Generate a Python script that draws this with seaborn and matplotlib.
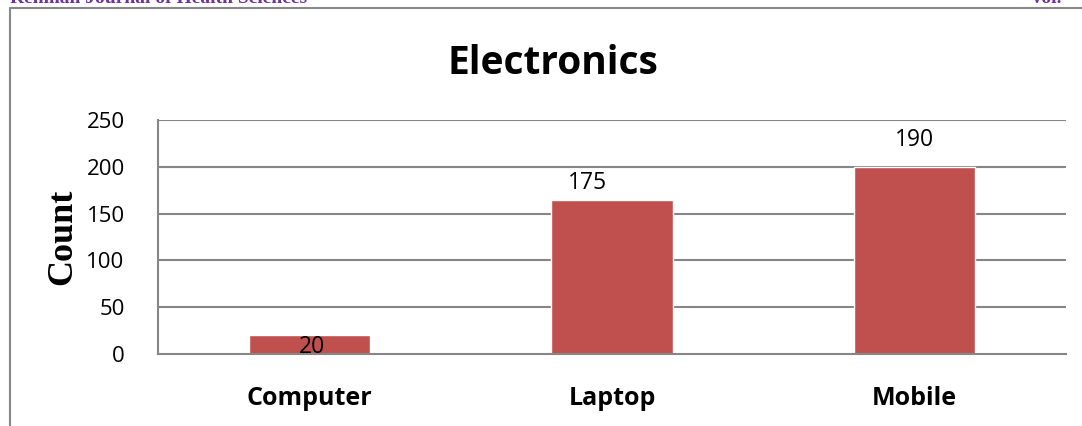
import matplotlib
matplotlib.use("Agg")
import matplotlib.pyplot as plt
import seaborn as sns
import pandas as pd
from matplotlib.lines import Line2D

categories = ["Computer", "Laptop", "Mobile"]
bar_values = [20, 165, 200]
label_texts = ["20", "175", "190"]
y_ticks = [0, 50, 100, 150, 200, 250]

# annotation placement (data units), kept apart from the data
label_y = [8, 183, 229]
label_dx = [0.01, -0.08, 0.0]

sns.set_theme(style="white")
plt.rcParams["font.family"] = ["Open Sans", "DejaVu Sans"]
plt.rcParams["text.color"] = "black"
plt.rcParams["xtick.color"] = "black"
plt.rcParams["ytick.color"] = "black"

df = pd.DataFrame({"cat": categories, "val": bar_values})

fig = plt.figure(figsize=(10.82, 4.26), dpi=100)
ax = fig.add_axes([158 / 1082, 1 - 354 / 426, (1066 - 158) / 1082, (354 - 120) / 426])

sns.barplot(data=df, x="cat", y="val", color="#C0504D", width=0.4, saturation=1, ax=ax, zorder=3)

grid_c = "#868686"
ax.set_ylim(0, 250)
ax.set_xlim(-0.5, 2.5)
ax.set_yticks(y_ticks)
ax.set_yticklabels([str(t) for t in y_ticks], fontsize=16, color="black")
for t in y_ticks[1:]:
    ax.axhline(t, color=grid_c, lw=1.5, zorder=1)
ax.tick_params(axis="y", length=0, pad=24)
ax.tick_params(axis="x", length=0, pad=23)
ax.set_xticks(range(len(categories)))
ax.set_xticklabels(categories, fontsize=18, fontweight="bold", color="black")
ax.set_xlabel("")
ax.set_ylabel("")
for s in ["top", "right"]:
    ax.spines[s].set_visible(False)
for s in ["left", "bottom"]:
    ax.spines[s].set_color(grid_c)
    ax.spines[s].set_linewidth(1.5)
    ax.spines[s].set_zorder(4)

for i, (txt, yy, dx) in enumerate(zip(label_texts, label_y, label_dx)):
    ax.text(i + dx, yy, txt, ha="center", va="center", fontsize=16.5, color="black", zorder=5)

fig.text(63 / 1082, 1 - 237 / 426, "Count", rotation=90, ha="center", va="center",
         fontsize=26, fontweight="bold", color="black", family=["Liberation Serif", "DejaVu Serif"])
fig.text(553 / 1082, 1 - 64 / 426, "Electronics", ha="center", va="center",
         fontsize=28, fontweight="bold", color="black")

# page frame and header
fig.add_artist(Line2D([10 / 1082, 10 / 1082], [0, 1 - 8 / 426], color="#888888", lw=1.5,
                      transform=fig.transFigure))
fig.add_artist(Line2D([10 / 1082, 1], [1 - 8 / 426, 1 - 8 / 426], color="#888888", lw=1.5,
                      transform=fig.transFigure))
fig.text(10 / 1082, 1 - 3 / 426, "Rehman Journal of Health Sciences", ha="left", va="baseline",
         fontsize=14, fontweight="bold", color="#7030A0", family=["Liberation Serif", "DejaVu Serif"])
fig.text(1030 / 1082, 1 - 3 / 426, "Vol.", ha="left", va="baseline",
         fontsize=14, fontweight="bold", color="#7030A0", family=["Liberation Serif", "DejaVu Serif"])

fig.savefig("out.png", dpi=100)
